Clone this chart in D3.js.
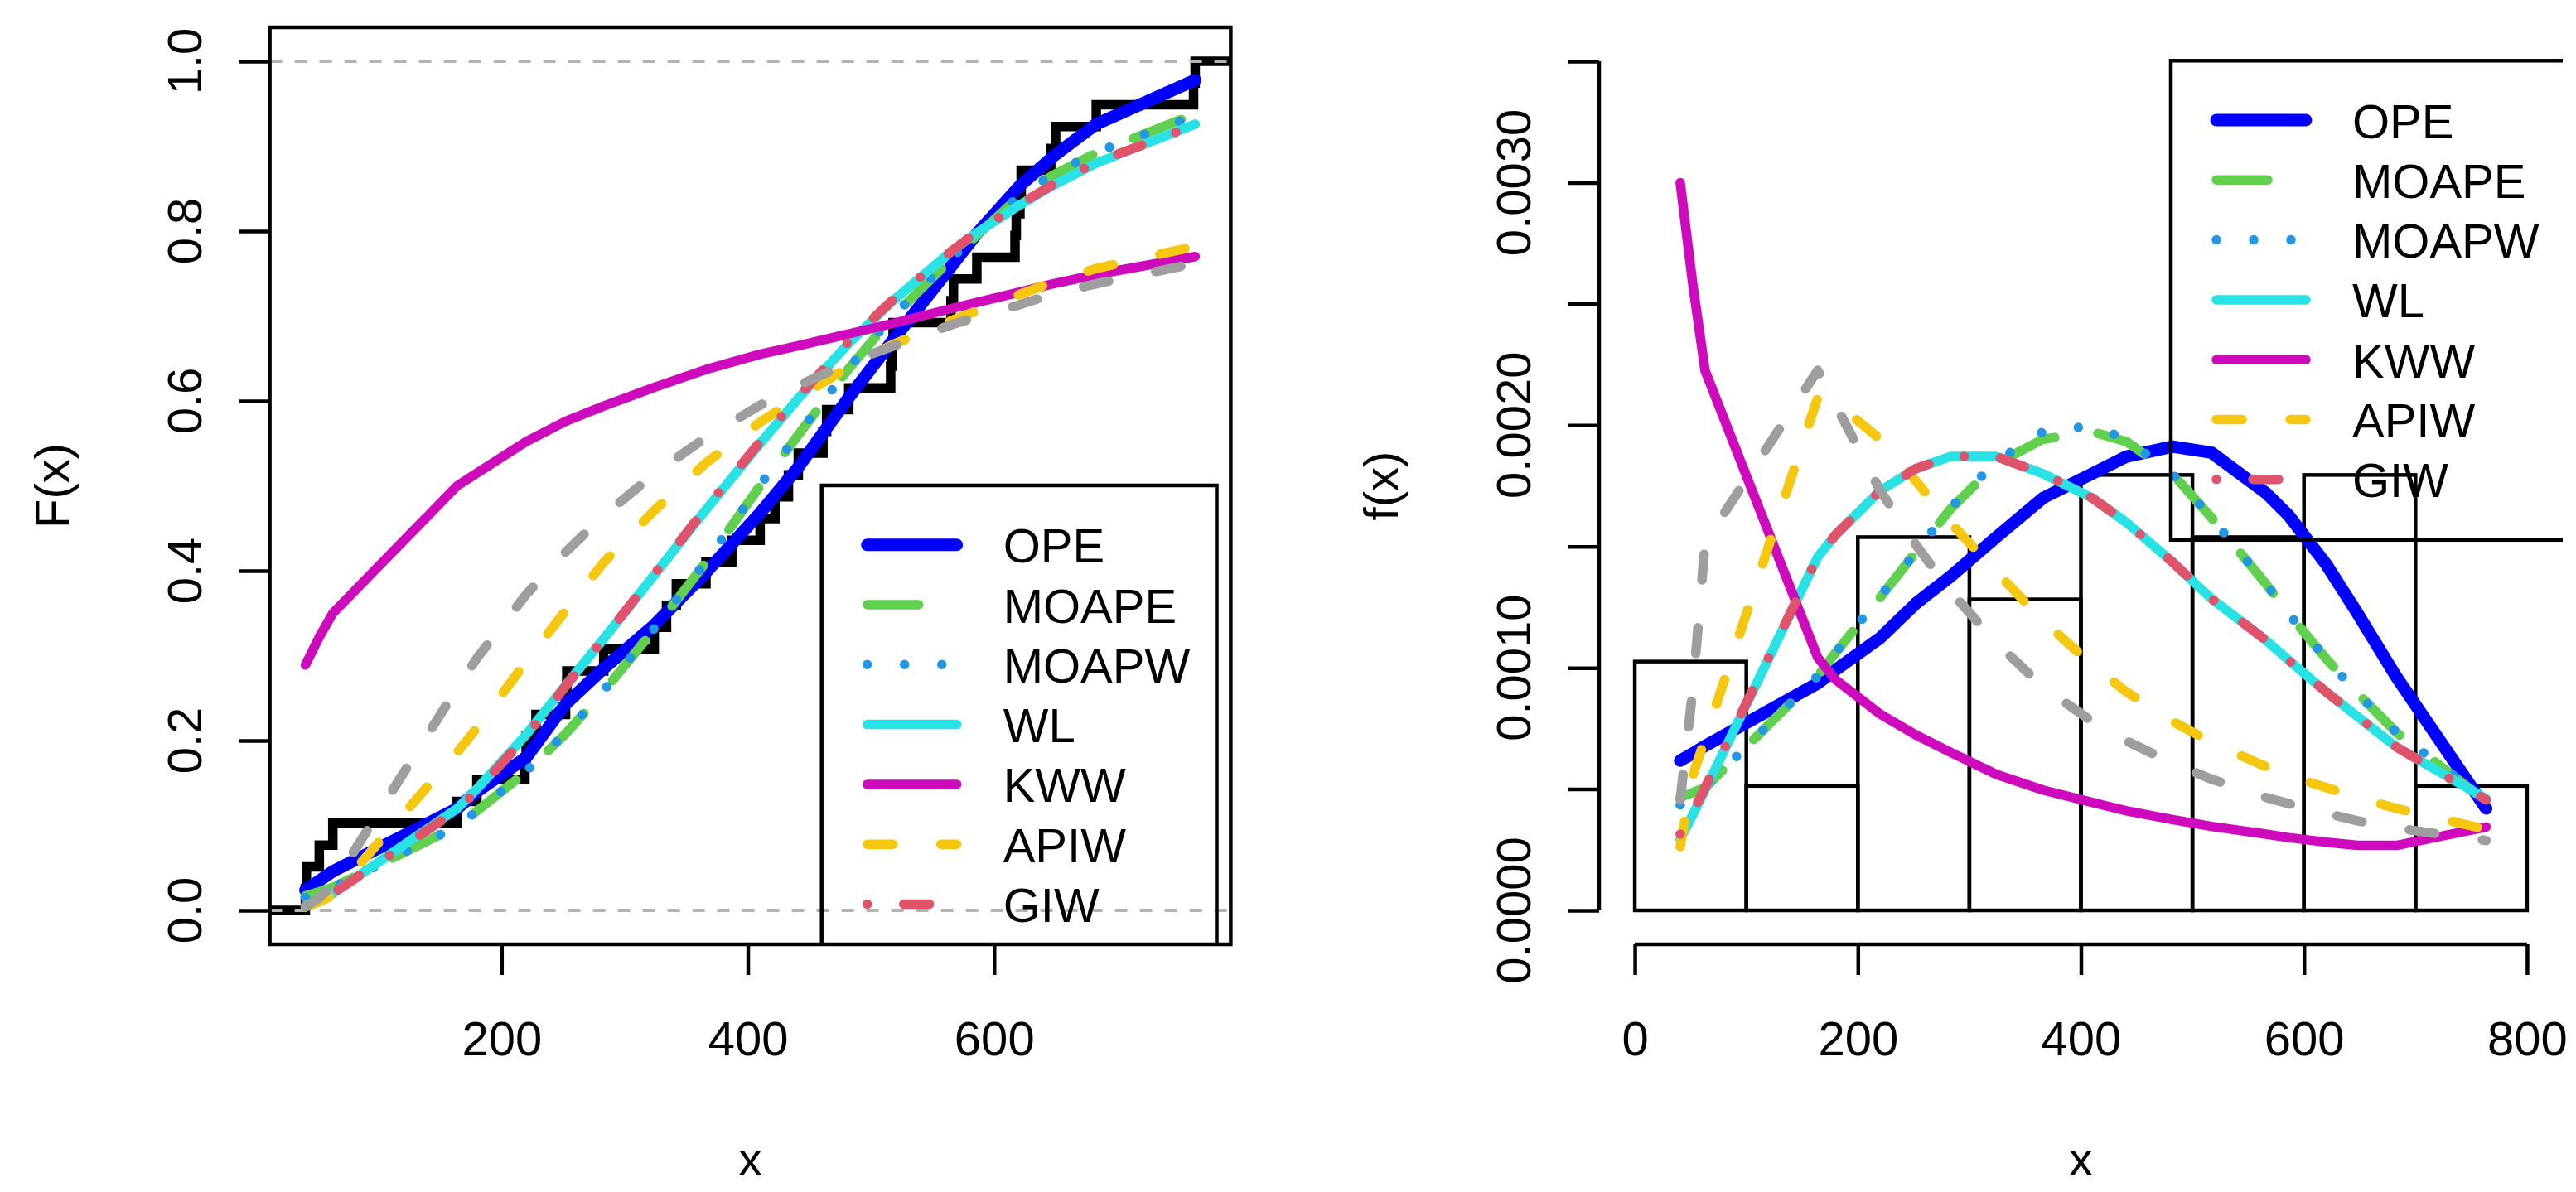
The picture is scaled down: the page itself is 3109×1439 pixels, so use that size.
<!DOCTYPE html>
<html>
<head>
<meta charset="utf-8">
<script src="https://cdn.jsdelivr.net/npm/d3@7"></script>
<style>
	body { margin: 0; background: #fff; }
	svg { display: block; }
	text { font-family: 'Liberation Sans', Arial, Helvetica, sans-serif; }
</style>
</head>
<body>
<div id="chart"></div>
<script>
const sample = [40.7, 41.5, 52, 63, 164, 180, 219, 220, 228, 252, 253, 283, 324, 334, 342, 366, 387, 410, 422, 433, 441,
	461, 464, 482, 516, 517, 518, 565, 567, 586, 617, 618, 621, 622, 646, 650, 683, 762, 763.3];

// x positions where the fitted curves were evaluated
const evalX = [40.7, 52, 63, 164, 180, 220, 252, 283, 324, 366, 410, 441, 482, 517, 566, 586, 620, 648, 683, 763.3];

// fitted CDFs (left panel)
const cdfOPE = [0.024, 0.035, 0.046, 0.120, 0.140, 0.180, 0.243, 0.285, 0.336, 0.398, 0.468, 0.522, 0.604, 0.670, 0.760, 0.797, 0.852, 0.888, 0.926, 0.978];
const cdfMOAPE = [0.017, 0.022, 0.027, 0.099, 0.117, 0.163, 0.208, 0.258, 0.331, 0.410, 0.500, 0.560, 0.638, 0.698, 0.768, 0.795, 0.840, 0.866, 0.892, 0.938];
const cdfMOAPW = [0.015, 0.021, 0.027, 0.099, 0.117, 0.164, 0.209, 0.259, 0.332, 0.411, 0.501, 0.561, 0.639, 0.699, 0.769, 0.796, 0.841, 0.867, 0.893, 0.936];
const cdfWL = [0.006, 0.012, 0.020, 0.120, 0.143, 0.207, 0.265, 0.320, 0.395, 0.472, 0.550, 0.603, 0.668, 0.717, 0.777, 0.798, 0.830, 0.854, 0.880, 0.926];
const cdfKWW = [0.289, 0.322, 0.350, 0.500, 0.515, 0.552, 0.576, 0.594, 0.616, 0.637, 0.655, 0.665, 0.679, 0.691, 0.709, 0.716, 0.728, 0.738, 0.749, 0.770];
const cdfAPIW = [0.004, 0.010, 0.018, 0.186, 0.215, 0.293, 0.353, 0.410, 0.471, 0.527, 0.575, 0.604, 0.640, 0.666, 0.695, 0.706, 0.725, 0.740, 0.756, 0.782];
const cdfGIW = [0.005, 0.011, 0.020, 0.118, 0.141, 0.205, 0.264, 0.320, 0.396, 0.474, 0.552, 0.605, 0.670, 0.718, 0.777, 0.799, 0.831, 0.855, 0.881, 0.925];
const cdfGrey = [0.004, 0.015, 0.030, 0.262, 0.297, 0.372, 0.422, 0.465, 0.514, 0.557, 0.595, 0.618, 0.645, 0.664, 0.690, 0.699, 0.713, 0.726, 0.738, 0.762];

// fitted densities (right panel)
const pdfOPE = [0.000617, 0.000647, 0.000678, 0.000936, 0.000991, 0.001123, 0.001265, 0.001376, 0.001538, 0.00170, 0.00180, 0.001871, 0.001912, 0.001887, 0.00172, 0.001629, 0.001426, 0.001224, 0.000961, 0.00042];
const pdfMOAPE = [0.000465, 0.000486, 0.000506, 0.000966, 0.001062, 0.00129, 0.001477, 0.001654, 0.001841, 0.001942, 0.001973, 0.001932, 0.00180, 0.001619, 0.001345, 0.001224, 0.001037, 0.000895, 0.000733, 0.00045];
const pdfMOAPW = [0.000435, 0.000475, 0.000506, 0.000966, 0.001062, 0.001295, 0.001477, 0.001659, 0.001851, 0.001973, 0.001998, 0.001942, 0.00180, 0.001619, 0.001345, 0.001224, 0.001037, 0.000895, 0.000733, 0.000455];
const pdfWL = [0.000293, 0.000395, 0.000496, 0.001457, 0.001548, 0.00173, 0.001821, 0.001871, 0.001871, 0.00180, 0.00170, 0.001598, 0.001436, 0.001285, 0.001113, 0.001032, 0.00090, 0.000799, 0.000673, 0.00046];
const pdfKWW = [0.0030, 0.00258, 0.002225, 0.001042, 0.000951, 0.000809, 0.000723, 0.000652, 0.000561, 0.000496, 0.000445, 0.00041, 0.000374, 0.000346, 0.000314, 0.00030, 0.000281, 0.000268, 0.000268, 0.000344];
const pdfAPIW = [0.000263, 0.000556, 0.000708, 0.002114, 0.002094, 0.001942, 0.00177, 0.001598, 0.001396, 0.001194, 0.001012, 0.00090, 0.000779, 0.000693, 0.000592, 0.000556, 0.000506, 0.000465, 0.00042, 0.000334];
const pdfGIW = [0.000314, 0.000405, 0.000506, 0.001457, 0.001548, 0.00173, 0.001821, 0.001871, 0.001871, 0.00180, 0.00170, 0.001598, 0.001436, 0.001285, 0.001113, 0.001032, 0.00090, 0.000799, 0.000673, 0.000455];
const pdfGrey = [0.000455, 0.00091, 0.001517, 0.002226, 0.002084, 0.00173, 0.001507, 0.001315, 0.001103, 0.000921, 0.000779, 0.000698, 0.000607, 0.000541, 0.000465, 0.00044, 0.00040, 0.000369, 0.000339, 0.000288];

const legendNames = ['OPE', 'MOAPE', 'MOAPW', 'WL', 'KWW', 'APIW', 'GIW'];
const binEdges = [0, 100, 200, 300, 400, 500, 600, 700, 800];
const xTicksL = [200, 400, 600];
const yTicksL = [0, 0.2, 0.4, 0.6, 0.8, 1.0];
const xTicksR = [0, 200, 400, 600, 800];
const yTicksR = [0, 0.0005, 0.001, 0.0015, 0.002, 0.0025, 0.003, 0.0035];
const yLabelsR = [0, 0.001, 0.002, 0.003];

// line styles (R palette)
const styles = {
	OPE: { color: '#0000FF', width: 15, dash: null },
	MOAPE: { color: '#61D04F', width: 11.5, dash: '62 53' },
	MOAPW: { color: '#2297E6', width: 11.5, dash: '0.01 45' },
	WL: { color: '#28E2E5', width: 11.5, dash: null },
	KWW: { color: '#CD0BBC', width: 11.5, dash: null },
	APIW: { color: '#F5C710', width: 11.5, dash: '31 58' },
	GIW: { color: '#DF536B', width: 11.5, dash: '0.01 44 31 44' },
	grey: { color: '#9E9E9E', width: 11.5, dash: '31 58' }
};

const models = [
	{ key: 'OPE', cdf: cdfOPE, pdf: pdfOPE },
	{ key: 'MOAPE', cdf: cdfMOAPE, pdf: pdfMOAPE },
	{ key: 'MOAPW', cdf: cdfMOAPW, pdf: pdfMOAPW },
	{ key: 'WL', cdf: cdfWL, pdf: pdfWL },
	{ key: 'KWW', cdf: cdfKWW, pdf: pdfKWW },
	{ key: 'APIW', cdf: cdfAPIW, pdf: pdfAPIW },
	{ key: 'GIW', cdf: cdfGIW, pdf: pdfGIW },
	{ key: 'grey', cdf: cdfGrey, pdf: pdfGrey }
];

const W = 3109;
const H = 1439;
const fontSize = 58;
const plotTop = 33;
const plotBottom = 1140;
const left = { x0: 325.6, x1: 1485.4 };
const right = { x0: 1930, x1: 3093 };
const axisW = 4.5;

const svg = d3.select('#chart').append('svg').attr('width', W).attr('height', H);
svg.append('rect').attr('width', W).attr('height', H).attr('fill', '#fff');

const defs = svg.append('defs');
defs.append('clipPath').attr('id', 'clipL').append('rect')
	.attr('x', left.x0).attr('y', plotTop).attr('width', left.x1 - left.x0).attr('height', plotBottom - plotTop);
defs.append('clipPath').attr('id', 'clipR').append('rect')
	.attr('x', right.x0).attr('y', plotTop).attr('width', right.x1 - right.x0).attr('height', plotBottom - plotTop);

// scales (R style 4% padding)
const ext = d3.extent(sample);
const padX = 0.04 * (ext[1] - ext[0]);
const xL = d3.scaleLinear().domain([ ext[0] - padX, ext[1] + padX ]).range([ left.x0, left.x1 ]);
const yL = d3.scaleLinear().domain([ -0.04, 1.04 ]).range([ plotBottom, plotTop ]);

const xlimR = [ 0, 800 ];
const ylimR = [ 0, 0.0035 ];
const padXR = 0.04 * (xlimR[1] - xlimR[0]);
const padYR = 0.04 * (ylimR[1] - ylimR[0]);
const xR = d3.scaleLinear().domain([ xlimR[0] - padXR, xlimR[1] + padXR ]).range([ right.x0, right.x1 ]);
const yR = d3.scaleLinear().domain([ ylimR[0] - padYR, ylimR[1] + padYR ]).range([ plotBottom, plotTop ]);

function styleLine(sel, st) {
	sel
		.attr('fill', 'none')
		.attr('stroke', st.color)
		.attr('stroke-width', st.width)
		.attr('stroke-linecap', 'round')
		.attr('stroke-linejoin', 'round')
		.attr('stroke-dasharray', st.dash);
}

function drawLegend(g, bx, by, bw, bh) {
	const rowStep = 72.3;
	g
		.append('rect')
		.attr('x', bx)
		.attr('y', by)
		.attr('width', bw)
		.attr('height', bh)
		.attr('fill', 'none')
		.attr('stroke', '#000')
		.attr('stroke-width', axisW);
	legendNames.forEach((name, i) => {
		const cy = by + 71.7 + i * rowStep;
		g
			.append('path')
			.attr('d', `M${bx + 55},${cy}H${bx + 163}`)
			.call(styleLine, styles[name]);
		g
			.append('text')
			.attr('x', bx + 219)
			.attr('y', cy + 21.5)
			.style('font-size', `${fontSize}px`)
			.attr('fill', '#000')
			.text(name);
	});
}

// ---------------- left panel: ECDF + fitted CDFs ----------------
const gL = svg.append('g');
const plotL = gL.append('g').attr('clip-path', 'url(#clipL)');

const n = sample.length;
const ecdfPts = [ [ xL.domain()[0], 0 ] ]
	.concat(sample.map((v, i) => [ v, (i + 1) / n ]))
	.concat([ [ xL.domain()[1], 1 ] ]);
const stepLine = d3.line().x((d) => xL(d[0])).y((d) => yL(d[1])).curve(d3.curveStepAfter);

plotL
	.append('path')
	.datum(ecdfPts)
	.attr('d', stepLine)
	.attr('fill', 'none')
	.attr('stroke', '#000')
	.attr('stroke-width', 11.5)
	.attr('stroke-linejoin', 'miter');

// reference lines at 0 and 1
plotL
	.selectAll('.hline')
	.data([ 0, 1 ])
	.join('line')
	.attr('x1', left.x0)
	.attr('x2', left.x1)
	.attr('y1', (d) => yL(d))
	.attr('y2', (d) => yL(d))
	.attr('stroke', '#B3B3B3')
	.attr('stroke-width', 4)
	.attr('stroke-dasharray', '15 15');

const cdfLine = (vals) => d3.line().x((d, i) => xL(evalX[i])).y((d) => yL(d))(vals);
models.forEach((m) => {
	plotL.append('path').attr('d', cdfLine(m.cdf)).call(styleLine, styles[m.key]);
});

drawLegend(plotL, 991.7, 586, 476.8, 578);

gL
	.append('rect')
	.attr('x', left.x0)
	.attr('y', plotTop)
	.attr('width', left.x1 - left.x0)
	.attr('height', plotBottom - plotTop)
	.attr('fill', 'none')
	.attr('stroke', '#000')
	.attr('stroke-width', axisW);

// x axis
const axL = gL
	.append('g')
	.attr('transform', `translate(0,${plotBottom})`)
	.call(d3.axisBottom(xL).tickValues(xTicksL).tickSize(37).tickPadding(56).tickFormat(d3.format('d')));
axL.select('.domain').remove();
axL.selectAll('line').attr('stroke', '#000').attr('stroke-width', axisW);
axL.selectAll('text').style('font-size', `${fontSize}px`).attr('fill', '#000').style('font-family', null);

// y axis
const ayL = gL
	.append('g')
	.attr('transform', `translate(${left.x0},0)`)
	.call(d3.axisLeft(yL).tickValues(yTicksL).tickSize(37).tickFormat(''));
ayL.select('.domain').remove();
ayL.selectAll('line').attr('stroke', '#000').attr('stroke-width', axisW);

gL
	.selectAll('.ylabL')
	.data(yTicksL)
	.join('text')
	.attr('transform', (d) => `translate(243,${yL(d)}) rotate(-90)`)
	.attr('text-anchor', 'middle')
	.style('font-size', `${fontSize}px`)
	.text(d3.format('.1f'));

gL
	.append('text')
	.attr('x', (left.x0 + left.x1) / 2)
	.attr('y', 1419)
	.attr('text-anchor', 'middle')
	.style('font-size', `${fontSize}px`)
	.text('x');

gL
	.append('text')
	.attr('transform', `translate(83,${(plotTop + plotBottom) / 2}) rotate(-90)`)
	.attr('text-anchor', 'middle')
	.style('font-size', `${fontSize}px`)
	.text('F(x)');

// ---------------- right panel: histogram + fitted densities ----------------
const gR = svg.append('g');

const bins = d3.bin().domain([ binEdges[0], binEdges[binEdges.length - 1] ]).thresholds(binEdges.slice(1, -1))(sample);

gR
	.selectAll('.bar')
	.data(bins)
	.join('rect')
	.attr('x', (d) => xR(d.x0))
	.attr('width', (d) => xR(d.x1) - xR(d.x0))
	.attr('y', (d) => yR(d.length / (n * (d.x1 - d.x0))))
	.attr('height', (d) => yR(0) - yR(d.length / (n * (d.x1 - d.x0))))
	.attr('fill', 'none')
	.attr('stroke', '#000')
	.attr('stroke-width', axisW);

const plotR = gR.append('g').attr('clip-path', 'url(#clipR)');
const pdfLine = (vals) => d3.line().x((d, i) => xR(evalX[i])).y((d) => yR(d))(vals);
models.forEach((m) => {
	plotR.append('path').attr('d', pdfLine(m.pdf)).call(styleLine, styles[m.key]);
});

drawLegend(plotR, 2620, 73.3, 700, 578.5);

// x axis
gR
	.append('line')
	.attr('x1', xR(xTicksR[0]))
	.attr('x2', xR(xTicksR[xTicksR.length - 1]))
	.attr('y1', plotBottom)
	.attr('y2', plotBottom)
	.attr('stroke', '#000')
	.attr('stroke-width', axisW);
const axR = gR
	.append('g')
	.attr('transform', `translate(0,${plotBottom})`)
	.call(d3.axisBottom(xR).tickValues(xTicksR).tickSize(37).tickPadding(56).tickFormat(d3.format('d')));
axR.select('.domain').remove();
axR.selectAll('line').attr('stroke', '#000').attr('stroke-width', axisW);
axR.selectAll('text').style('font-size', `${fontSize}px`).attr('fill', '#000').style('font-family', null);

// y axis
gR
	.append('line')
	.attr('x1', right.x0)
	.attr('x2', right.x0)
	.attr('y1', yR(yTicksR[0]))
	.attr('y2', yR(yTicksR[yTicksR.length - 1]))
	.attr('stroke', '#000')
	.attr('stroke-width', axisW);
const ayR = gR
	.append('g')
	.attr('transform', `translate(${right.x0},0)`)
	.call(d3.axisLeft(yR).tickValues(yTicksR).tickSize(37).tickFormat(''));
ayR.select('.domain').remove();
ayR.selectAll('line').attr('stroke', '#000').attr('stroke-width', axisW);

gR
	.selectAll('.ylabR')
	.data(yLabelsR)
	.join('text')
	.attr('transform', (d) => `translate(${right.x0 - (left.x0 - 243)},${yR(d)}) rotate(-90)`)
	.attr('text-anchor', 'middle')
	.style('font-size', `${fontSize}px`)
	.text(d3.format('.4f'));

gR
	.append('text')
	.attr('x', (right.x0 + right.x1) / 2)
	.attr('y', 1419)
	.attr('text-anchor', 'middle')
	.style('font-size', `${fontSize}px`)
	.text('x');

gR
	.append('text')
	.attr('transform', `translate(${right.x0 - (left.x0 - 83)},${(plotTop + plotBottom) / 2}) rotate(-90)`)
	.attr('text-anchor', 'middle')
	.style('font-size', `${fontSize}px`)
	.text('f(x)');
</script>
</body>
</html>
